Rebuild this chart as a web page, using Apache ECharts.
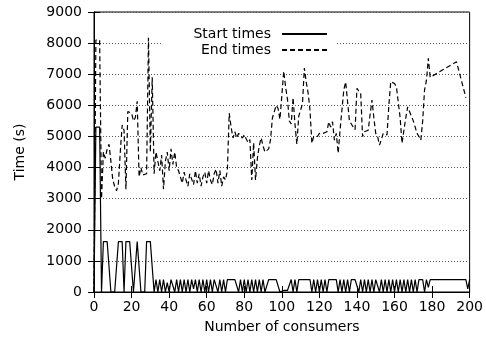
<!DOCTYPE html>
<html><head><meta charset="utf-8">
<script src="https://cdn.jsdelivr.net/npm/echarts@6/dist/echarts.min.js"></script>
<style>html,body{margin:0;padding:0;background:#fff}#c{width:486px;height:345px}</style>
</head><body><div id="c"></div>
<script>
const consumers = [0,1,2,3,4,5,6,7,8,9,10,11,12,13,14,15,16,17,18,19,20,21,22,23,24,25,26,27,28,29,30,31,32,33,34,35,36,37,38,39,40,41,42,43,44,45,46,47,48,49,50,51,52,53,54,55,56,57,58,59,60,61,62,63,64,65,66,67,68,69,70,71,72,73,74,75,76,77,78,79,80,81,82,83,84,85,86,87,88,89,90,91,92,93,94,95,96,97,98,99,100,101,102,103,104,105,106,107,108,109,110,111,112,113,114,115,116,117,118,119,120,121,122,123,124,125,126,127,128,129,130,131,132,133,134,135,136,137,138,139,140,141,142,143,144,145,146,147,148,149,150,151,152,153,154,155,156,157,158,159,160,161,162,163,164,165,166,167,168,169,170,171,172,173,174,175,176,177,178,179,193,198,199,200];

const startTimes = [0,5300,5300,5300,0,1620,1620,1620,1620,0,0,0,0,1620,1620,1620,0,1620,1620,1620,1620,0,0,1620,1620,0,0,0,1620,1620,1620,800,0,
400,0,400,0,400,0,300,0,400,400,0,400,0,400,0,400,0,400,0,400,100,400,0,400,0,400,0,400,0,400,0,400,400,0,400,0,400,0,
400,400,400,400,400,400,0,400,0,400,0,400,0,400,0,400,0,400,0,400,0,0,400,400,400,400,400,400,0,50,50,50,50,100,400,0,400,0,
400,400,400,400,400,400,400,0,400,0,400,0,400,0,400,0,400,400,400,400,400,0,400,0,400,0,400,0,400,400,400,400,0,400,0,400,0,
400,0,400,0,400,400,0,400,0,400,0,400,0,400,0,400,0,400,0,400,0,400,0,400,0,400,0,400,400,400,0,400,150,400,
400,400,100,400];

const endTimes = [0,8100,8100,8100,3000,4500,4300,4600,4750,4200,3600,3400,3250,3500,4500,5370,5200,3300,5800,5850,5750,5500,5600,6130,3700,4000,3760,3800,3800,8170,4500,6900,3800,4500,
4500,3900,4400,3300,4200,4500,3900,4600,4100,4500,4000,3900,3700,3500,3850,3600,3400,3800,3750,3450,3900,3500,3800,3400,3700,3850,3500,3900,3600,3450,3800,3950,3500,3900,3400,3700,3600,3900,
5750,5300,4950,5150,4950,5100,5100,4950,5050,5050,4800,4900,3600,4800,3600,4300,4700,4950,4700,4500,4500,4600,4900,5600,5800,6000,5900,5550,6300,7100,6600,6200,5500,5400,6250,5400,4750,5650,5700,6050,7200,6750,6400,5850,4780,
5000,5050,5000,5100,5050,5100,5150,5150,5470,5300,5470,4880,5100,4460,5200,5850,6500,6750,6800,5500,5550,5300,5220,6550,6450,6380,5000,5150,5150,5200,5700,6170,5600,5100,5000,4720,4900,5100,5050,5050,6000,6760,6800,6700,6600,6550,5600,4780,
5200,5600,5950,5800,5650,5500,5300,5100,5000,4880,5500,6500,6800,7510,6900,
7400,6250,null,null];

const xTicks = {min:0, max:200, interval:20};
const yTicks = {min:0, max:9000, interval:1000};
const seriesNames = ['Start times','End times'];

const FONT = 'DejaVu Sans';
const chart = echarts.init(document.getElementById('c'), null, {renderer:'canvas'});
const axisCommon = {
  axisLine:{show:true, lineStyle:{color:'#000', width:1}},
  axisTick:{show:true, inside:true, length:6, lineStyle:{color:'#000', width:1}},
};
const legendCommon = {orient:'vertical', align:'right', itemWidth:45, itemHeight:14, selectedMode:false,
  itemStyle:{opacity:0, borderWidth:0},
  textStyle:{fontSize:14, color:'#000', fontFamily:FONT, padding:[0,6,0,0]}};
chart.setOption({
  animation:false,
  backgroundColor:'#fff',
  textStyle:{fontFamily:FONT},
  grid:{left:94, right:15, top:12, bottom:53, show:true, borderColor:'#000', borderWidth:1, backgroundColor:'transparent'},
  legend:[
    Object.assign({data:[seriesNames[0]], right:149, top:20, padding:[7,9,23,31], backgroundColor:'#fff', z:5}, legendCommon),
    Object.assign({data:[seriesNames[1]], right:158, top:43, padding:0, z:6}, legendCommon)
  ],
  xAxis:[
    Object.assign({type:'value', position:'bottom', min:xTicks.min, max:xTicks.max, interval:xTicks.interval,
      axisLabel:{color:'#000', fontSize:14, fontFamily:FONT, margin:8, formatter:v=>String(v)},
      splitLine:{show:false},
      name:'Number of consumers', nameLocation:'middle', nameGap:28,
      nameTextStyle:{color:'#000', fontSize:14, fontFamily:FONT}}, axisCommon),
    Object.assign({type:'value', position:'top', min:xTicks.min, max:xTicks.max, interval:xTicks.interval,
      axisLabel:{show:false}, splitLine:{show:false}}, axisCommon)
  ],
  yAxis:[
    Object.assign({type:'value', position:'left', min:yTicks.min, max:yTicks.max, interval:yTicks.interval,
      axisLabel:{color:'#000', fontSize:14, fontFamily:FONT, margin:12, formatter:v=>String(v)},
      splitLine:{show:true, lineStyle:{color:'#555', width:1, type:[1,2]}},
      name:'Time (s)', nameLocation:'middle', nameGap:67, nameRotate:90,
      nameTextStyle:{color:'#000', fontSize:14, fontFamily:FONT}}, axisCommon),
    Object.assign({type:'value', position:'right', min:yTicks.min, max:yTicks.max, interval:yTicks.interval,
      axisLabel:{show:false}, splitLine:{show:false}}, axisCommon)
  ],
  series:[
    {name:seriesNames[0], type:'line', xAxisIndex:0, yAxisIndex:0, symbol:'none', showSymbol:false,
     lineStyle:{color:'#000', width:1.2, type:'solid'}, itemStyle:{color:'#000'},
     data:consumers.map((x,i)=>[x,startTimes[i]])},
    {name:seriesNames[1], type:'line', xAxisIndex:0, yAxisIndex:0, symbol:'none', showSymbol:false,
     lineStyle:{color:'#000', width:1.2, type:[5,3]}, itemStyle:{color:'#000'},
     data:consumers.map((x,i)=>[x,endTimes[i]])}
  ]
});
</script></body></html>
